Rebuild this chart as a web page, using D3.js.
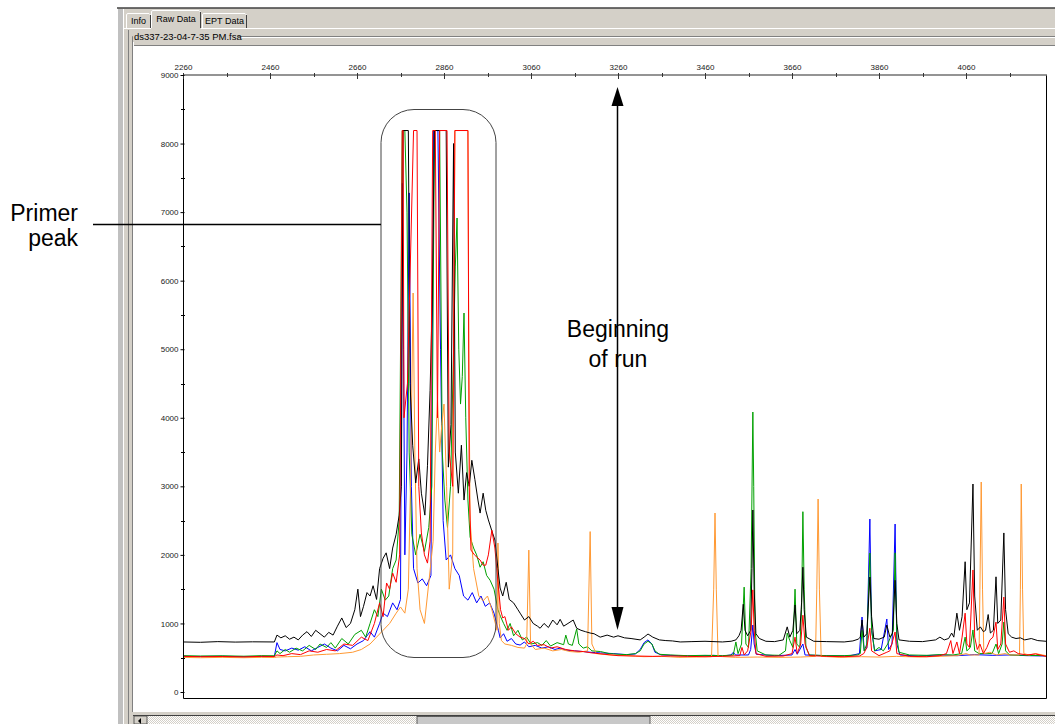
<!DOCTYPE html>
<html>
<head>
<meta charset="utf-8">
<script src="https://cdn.jsdelivr.net/npm/d3@7"></script>
<style>
  body { margin: 0; background: #fff; }
  svg { display: block; font-family: "Liberation Sans", Arial, sans-serif; }
</style>
</head>
<body>
<svg id="chart" width="1055" height="724"></svg>
<script>
// scan number vs raw fluorescence
const xTicks = [2260, 2460, 2660, 2860, 3060, 3260, 3460, 3660, 3860, 4060];
const yTicks = [0, 1000, 2000, 3000, 4000, 5000, 6000, 7000, 8000, 9000];
const tabs = ["Info", "Raw Data", "EPT Data"];
const fileName = "ds337-23-04-7-35 PM.fsa";

const blackTrace = [[2260,730],[2300,725],[2340,735],[2380,728],[2420,732],[2470,730],[2476,830],[2485,790],[2495,820],[2505,770],[2515,800],[2525,760],[2535,830],[2545,880],[2555,810],[2565,900],[2575,850],[2585,800],[2595,870],[2605,830],[2615,960],[2625,1080],[2635,940],[2645,1000],[2655,1200],[2662,1500],[2668,1100],[2675,1250],[2683,1450],[2690,1400],[2697,1550],[2705,1350],[2712,1800],[2720,1950],[2727,2030],[2735,1800],[2742,2100],[2750,2300],[2757,2580],[2762,3000],[2766,8190],[2778,8190],[2782,4500],[2788,3600],[2795,3050],[2802,3400],[2808,2900],[2816,2580],[2822,3300],[2828,4400],[2833,5720],[2838,8190],[2865,8190],[2870,3280],[2876,3900],[2882,8000],[2886,3500],[2893,2900],[2900,3600],[2906,2800],[2912,3200],[2918,3000],[2924,3380],[2931,3100],[2938,2800],[2943,2610],[2950,2900],[2956,2650],[2962,2510],[2970,2350],[2977,2217],[2984,1800],[2989,1517],[2995,1400],[3003,1600],[3010,1350],[3020,1300],[3030,1200],[3035,1150],[3045,1050],[3055,1100],[3065,1000],[3075,960],[3081,930],[3090,1000],[3100,940],[3110,1050],[3120,980],[3127,1060],[3135,960],[3145,1000],[3157,1050],[3165,930],[3175,900],[3185,880],[3196,860],[3205,850],[3219,800],[3235,830],[3250,800],[3260,820],[3275,790],[3290,780],[3311,760],[3320,800],[3329,846],[3340,800],[3355,760],[3370,750],[3385,745],[3403,730],[3430,735],[3460,740],[3500,730],[3520,740],[3531,760],[3538,820],[3543,900],[3548,1280],[3552,900],[3558,820],[3565,900],[3568,1800],[3570,2655],[3573,1500],[3577,850],[3585,780],[3600,740],[3620,735],[3640,760],[3649,950],[3655,800],[3662,900],[3667,1270],[3671,850],[3678,900],[3682,1300],[3685,1820],[3688,1200],[3693,800],[3710,740],[3740,735],[3780,730],[3800,745],[3812,770],[3817,800],[3821,1050],[3825,800],[3832,850],[3839,1677],[3843,1100],[3848,780],[3860,770],[3872,800],[3878,977],[3885,800],[3891,850],[3897,1630],[3901,1000],[3906,760],[3930,740],[3960,735],[3990,760],[4000,800],[4010,760],[4020,780],[4027,860],[4032,800],[4039,1150],[4045,900],[4051,1100],[4058,1900],[4062,1200],[4068,1300],[4076,3034],[4080,1400],[4086,900],[4093,950],[4100,880],[4105,900],[4111,1130],[4116,860],[4123,900],[4129,1680],[4133,1000],[4140,1050],[4147,2320],[4151,1200],[4157,850],[4165,800],[4175,780],[4185,790],[4195,760],[4210,780],[4225,750],[4244,740]];

const greenTrace = [[2260,530],[2300,525],[2350,528],[2400,522],[2440,530],[2470,528],[2476,600],[2483,560],[2495,620],[2505,580],[2520,640],[2535,600],[2550,680],[2565,620],[2575,700],[2590,650],[2600,720],[2610,640],[2625,780],[2640,700],[2655,840],[2670,900],[2680,800],[2690,1000],[2700,1200],[2708,1100],[2716,1500],[2725,1340],[2733,1400],[2742,1800],[2750,1925],[2757,2510],[2764,8190],[2770,8190],[2775,7000],[2780,3500],[2786,2300],[2795,2000],[2805,2300],[2815,2050],[2825,2400],[2832,3000],[2838,8190],[2850,8190],[2856,3500],[2862,2800],[2868,2400],[2875,3000],[2882,5000],[2886,6200],[2890,6914],[2894,5000],[2898,4200],[2902,4600],[2906,5528],[2910,4000],[2915,2800],[2920,2260],[2928,2100],[2935,2000],[2943,1820],[2950,1900],[2958,1700],[2966,1630],[2975,1500],[2984,1200],[2990,1100],[2997,1000],[3005,900],[3012,1000],[3020,820],[3030,900],[3040,760],[3050,800],[3060,700],[3075,720],[3085,680],[3095,750],[3105,670],[3120,720],[3135,690],[3140,830],[3146,700],[3155,680],[3165,920],[3170,700],[3180,640],[3190,660],[3200,600],[3220,590],[3240,560],[3260,550],[3280,545],[3300,560],[3311,600],[3320,700],[3329,740],[3338,700],[3345,600],[3355,550],[3380,540],[3420,530],[3460,535],[3500,530],[3525,540],[3531,730],[3536,560],[3544,700],[3550,1530],[3554,700],[3560,650],[3566,1800],[3570,4084],[3572,3000],[3575,900],[3580,600],[3600,540],[3630,535],[3645,600],[3649,860],[3655,750],[3662,650],[3667,1500],[3671,700],[3678,650],[3682,1200],[3685,2630],[3688,1500],[3692,650],[3700,540],[3740,530],[3780,530],[3810,540],[3817,560],[3821,900],[3826,600],[3832,700],[3839,2027],[3843,900],[3850,600],[3860,650],[3870,600],[3880,700],[3893,900],[3897,2030],[3901,800],[3906,580],[3930,540],[3970,535],[4000,545],[4030,540],[4050,560],[4058,800],[4062,600],[4070,650],[4076,905],[4080,600],[4090,560],[4120,560],[4129,700],[4135,560],[4143,700],[4147,1020],[4151,600],[4160,540],[4190,535],[4244,530]];

const redTrace = [[2260,520],[2300,515],[2350,518],[2400,512],[2440,520],[2470,518],[2476,540],[2490,530],[2510,560],[2530,545],[2550,600],[2570,580],[2590,620],[2610,600],[2630,700],[2650,680],[2670,800],[2685,750],[2700,1000],[2712,1300],[2720,1100],[2728,1590],[2735,1500],[2742,1735],[2750,1600],[2758,2000],[2764,8190],[2766,8190],[2768,4000],[2776,4500],[2790,8190],[2798,8190],[2802,3000],[2808,2320],[2815,2000],[2822,1880],[2828,2200],[2834,8190],[2840,8190],[2845,4000],[2850,8190],[2867,8190],[2872,3500],[2880,3000],[2885,8190],[2915,8190],[2918,3000],[2922,2070],[2930,2000],[2943,1925],[2950,1850],[2956,1850],[2962,2000],[2970,2360],[2977,2100],[2984,1600],[2990,1200],[2995,1080],[3000,1100],[3008,900],[3015,950],[3025,850],[3035,800],[3045,780],[3055,700],[3065,740],[3075,680],[3090,690],[3105,640],[3120,660],[3140,620],[3160,600],[3180,590],[3200,570],[3230,550],[3260,530],[3300,525],[3340,520],[3380,525],[3420,520],[3460,515],[3500,520],[3540,530],[3545,650],[3550,540],[3558,600],[3566,900],[3570,1490],[3573,900],[3577,560],[3600,520],[3640,525],[3660,560],[3667,800],[3672,560],[3680,700],[3685,1120],[3690,700],[3700,530],[3740,520],[3780,515],[3815,525],[3825,560],[3832,650],[3839,930],[3843,600],[3860,530],[3878,580],[3885,600],[3897,875],[3901,560],[3930,520],[3970,515],[4000,530],[4015,560],[4025,750],[4030,560],[4039,730],[4045,560],[4051,800],[4058,1150],[4062,700],[4068,650],[4076,1780],[4080,800],[4086,620],[4092,700],[4100,560],[4108,650],[4115,760],[4122,800],[4129,1020],[4133,620],[4140,700],[4147,1385],[4151,700],[4160,580],[4170,600],[4180,560],[4200,540],[4220,555],[4244,520]];

const blueTrace = [[2260,520],[2300,518],[2350,522],[2400,515],[2440,520],[2470,520],[2476,720],[2483,620],[2495,600],[2510,640],[2525,610],[2540,660],[2555,600],[2570,650],[2585,700],[2600,640],[2615,600],[2630,680],[2645,630],[2660,700],[2675,750],[2690,880],[2700,800],[2712,1000],[2720,1150],[2730,1100],[2742,1300],[2752,1200],[2760,1350],[2764,7420],[2767,5000],[2770,2000],[2775,3500],[2780,7280],[2785,3000],[2790,1800],[2800,1590],[2810,1650],[2820,1550],[2830,1700],[2836,8190],[2846,8190],[2852,5000],[2858,2500],[2865,1925],[2875,2000],[2885,1800],[2895,1700],[2905,1400],[2915,1340],[2925,1450],[2935,1300],[2945,1400],[2955,1250],[2965,1300],[2975,1150],[2985,900],[2989,790],[2997,850],[3005,740],[3015,780],[3025,700],[3035,685],[3045,730],[3055,660],[3070,680],[3085,640],[3100,660],[3115,620],[3127,640],[3140,610],[3160,600],[3180,590],[3196,580],[3220,570],[3250,560],[3280,545],[3300,555],[3311,620],[3320,720],[3329,760],[3338,700],[3345,580],[3360,540],[3400,530],[3440,525],[3480,535],[3500,525],[3520,540],[3525,580],[3530,540],[3560,540],[3565,620],[3570,977],[3573,700],[3578,550],[3620,530],[3660,540],[3667,620],[3672,550],[3685,700],[3690,540],[3740,530],[3790,525],[3815,560],[3821,1094],[3826,600],[3832,640],[3839,2523],[3843,900],[3850,600],[3865,620],[3878,1065],[3882,620],[3890,700],[3897,2450],[3901,700],[3908,540],[3950,525],[4000,540],[4040,530],[4080,545],[4120,535],[4160,540],[4200,530],[4244,525]];

const orangeTrace = [[2260,505],[2300,500],[2350,505],[2400,500],[2440,505],[2470,503],[2476,510],[2500,515],[2530,520],[2560,540],[2590,550],[2620,560],[2650,580],[2670,620],[2690,700],[2705,800],[2720,900],[2735,1000],[2750,1150],[2760,1240],[2770,1150],[2778,1500],[2783,3000],[2789,5820],[2793,3500],[2798,1800],[2805,1200],[2815,1000],[2825,1590],[2835,2200],[2840,3500],[2845,4260],[2850,3500],[2855,3900],[2860,4200],[2866,3000],[2872,1500],[2880,2000],[2885,8190],[2915,8190],[2917,5000],[2920,2500],[2928,1800],[2940,1400],[2950,1330],[2960,1400],[2970,1200],[2978,1000],[2982,900],[2984,2173],[2987,1000],[2992,750],[3000,700],[3015,680],[3030,650],[3045,640],[3050,700],[3055,2070],[3059,700],[3070,620],[3090,640],[3110,600],[3130,620],[3150,590],[3170,580],[3190,600],[3196,2340],[3200,700],[3210,560],[3240,540],[3280,530],[3320,515],[3360,520],[3400,505],[3440,510],[3475,515],[3480,1500],[3483,2611],[3486,1500],[3490,520],[3530,505],[3580,510],[3630,505],[3680,510],[3714,520],[3717,1500],[3720,2815],[3723,1500],[3727,520],[3770,505],[3820,515],[3860,510],[3900,520],[3950,510],[4000,520],[4040,530],[4060,560],[4070,540],[4090,540],[4092,1500],[4095,3063],[4098,1500],[4101,560],[4115,580],[4130,540],[4150,560],[4160,540],[4183,540],[4185,1500],[4187,3034],[4190,1500],[4193,560],[4205,540],[4220,560],[4244,530]];

const traces = [
  {name: "blue", color: "#0000ff", data: blueTrace},
  {name: "green", color: "#00a000", data: greenTrace},
  {name: "orange", color: "#ff9933", data: orangeTrace},
  {name: "black", color: "#000000", data: blackTrace},
  {name: "red", color: "#ff0000", data: redTrace}
];

const svg = d3.select("#chart");
const grey = "#d4d0c8";

// ---- window chrome (tabs, group box, scrollbar) ----
svg.append("rect").attr("x", 118).attr("y", 8).attr("width", 937).attr("height", 716).attr("fill", grey);
svg.append("line").attr("x1", 117).attr("x2", 1055).attr("y1", 8).attr("y2", 8).attr("stroke", "#404040").attr("stroke-width", 1.5);
svg.append("rect").attr("x", 118).attr("y", 9).attr("width", 5).attr("height", 715).attr("fill", "#c0c0c0");
svg.append("line").attr("x1", 123.5).attr("x2", 123.5).attr("y1", 9).attr("y2", 724).attr("stroke", "#fff");
svg.append("line").attr("x1", 128.5).attr("x2", 128.5).attr("y1", 30).attr("y2", 724).attr("stroke", "#808080");

var tabX = [126, 151, 202], tabW = [25, 50, 45];
tabs.forEach(function(t, i) {
  var sel = i === 1;
  var ty = sel ? 10 : 13;
  svg.append("path")
    .attr("d", `M${tabX[i]+0.5},28 V${ty+2} Q${tabX[i]+0.5},${ty+0.5} ${tabX[i]+2},${ty+0.5} H${tabX[i]+tabW[i]-2} L${tabX[i]+tabW[i]-0.5},${ty+2} V28`)
    .attr("fill", grey).attr("stroke", "#fff");
  svg.append("line").attr("x1", tabX[i]+tabW[i]-0.5).attr("x2", tabX[i]+tabW[i]-0.5)
    .attr("y1", ty+2).attr("y2", 28).attr("stroke", "#404040");
  svg.append("text").attr("x", tabX[i] + tabW[i]/2).attr("y", sel ? 22 : 24)
    .attr("text-anchor", "middle").attr("font-size", 9).attr("fill", "#000").text(t);
});
svg.append("line").attr("x1", 124).attr("x2", 151).attr("y1", 28.5).attr("y2", 28.5).attr("stroke", "#fff");
svg.append("line").attr("x1", 201).attr("x2", 1055).attr("y1", 28.5).attr("y2", 28.5).attr("stroke", "#fff");

// group box
svg.append("path").attr("d", "M132.5,712 V36.5 H1055").attr("fill", "none").attr("stroke", "#808080");
svg.append("path").attr("d", "M133.5,712 V37.5 H1055").attr("fill", "none").attr("stroke", "#fff");
svg.append("rect").attr("x", 133).attr("y", 31).attr("width", 104).attr("height", 11).attr("fill", grey);
svg.append("text").attr("x", 134).attr("y", 40).attr("font-size", 9.5).attr("fill", "#000").text(fileName);

// white plot panel
svg.append("rect").attr("x", 134).attr("y", 46).attr("width", 921).attr("height", 666).attr("fill", "#fff");
svg.append("line").attr("x1", 134).attr("x2", 1055).attr("y1", 45.5).attr("y2", 45.5).attr("stroke", "#808080");

// scrollbar
var defs = svg.append("defs");
var pat = defs.append("pattern").attr("id", "hatch").attr("width", 2).attr("height", 2).attr("patternUnits", "userSpaceOnUse");
pat.append("rect").attr("width", 2).attr("height", 2).attr("fill", "#fff");
pat.append("rect").attr("width", 1).attr("height", 1).attr("fill", grey);
pat.append("rect").attr("x", 1).attr("y", 1).attr("width", 1).attr("height", 1).attr("fill", grey);
svg.append("rect").attr("x", 134).attr("y", 716).attr("width", 921).attr("height", 8).attr("fill", "url(#hatch)");
svg.append("line").attr("x1", 133).attr("x2", 1055).attr("y1", 715.5).attr("y2", 715.5).attr("stroke", "#404040");
svg.append("rect").attr("x", 134).attr("y", 716).attr("width", 13).attr("height", 8).attr("fill", grey).attr("stroke", "#404040").attr("stroke-width", 0.8);
svg.append("path").attr("d", "M138,721 L141,718 L141,724 Z").attr("fill", "#000");
svg.append("rect").attr("x", 417).attr("y", 716.5).attr("width", 233).attr("height", 8).attr("fill", "#c8c8c8").attr("stroke", "#404040").attr("stroke-width", 0.8);

// ---- plot ----
const plotL = 183, plotR = 1046, plotT = 75, plotB = 692, frameB = 698;
const x = d3.scaleLinear().domain([2260, 2260 + (plotR - plotL) * 200 / 87]).range([plotL, plotR]);
const y = d3.scaleLinear().domain([0, 9000]).range([plotB, plotT]);

defs.append("clipPath").attr("id", "plotClip")
  .append("rect").attr("x", plotL).attr("y", plotT - 2).attr("width", plotR - plotL).attr("height", frameB - plotT + 2);

const line = d3.line().x(d => x(d[0])).y(d => y(d[1]));
const traceG = svg.append("g").attr("clip-path", "url(#plotClip)");
traceG.selectAll("path.trace")
  .data(traces).enter()
  .append("path")
    .attr("class", "trace")
    .attr("d", d => line(d.data))
    .attr("fill", "none")
    .attr("stroke", d => d.color)
    .attr("stroke-width", 1)
    .attr("stroke-linejoin", "miter");

// frame
svg.append("path").attr("d", `M${plotL+0.5},${plotT} V${frameB+0.5} H${plotR+0.5} V${plotT}`)
  .attr("fill", "none").attr("stroke", "#000").attr("stroke-width", 1);

// top axis (scan numbers)
const xAxis = d3.axisTop(x).tickValues(xTicks).tickSize(0).tickPadding(5).tickFormat(d3.format("d"));
const gx = svg.append("g").attr("transform", `translate(0,${plotT})`).call(xAxis);
gx.select(".domain").remove();
gx.selectAll("text").attr("font-size", 8).attr("fill", "#222").attr("font-family", "Liberation Sans, Arial, sans-serif");
svg.append("line").attr("x1", plotL).attr("x2", plotR + 1).attr("y1", plotT).attr("y2", plotT).attr("stroke", "#707070").attr("stroke-width", 1.6);
const xMinor = d3.range(2360, x.domain()[1], 200);
svg.append("g").selectAll("line").data(xMinor).enter().append("line")
  .attr("x1", d => Math.round(x(d)) + 0.5).attr("x2", d => Math.round(x(d)) + 0.5)
  .attr("y1", plotT - 2).attr("y2", plotT + 2).attr("stroke", "#333");
svg.append("g").selectAll("line").data(xTicks).enter().append("line")
  .attr("x1", d => Math.round(x(d)) + 0.5).attr("x2", d => Math.round(x(d)) + 0.5)
  .attr("y1", plotT - 2).attr("y2", plotT + 4).attr("stroke", "#333");

// left axis (intensity)
const yAxis = d3.axisLeft(y).tickValues(yTicks).tickSize(3).tickPadding(2).tickFormat(d3.format("d"));
const gy = svg.append("g").attr("transform", `translate(${plotL + 0.5},0)`).call(yAxis);
gy.select(".domain").remove();
gy.selectAll(".tick line").attr("stroke", "#000").attr("x2", -3).attr("x1", 1);
gy.selectAll("text").attr("font-size", 8).attr("fill", "#222").attr("font-family", "Liberation Sans, Arial, sans-serif");
svg.append("g").selectAll("line").data(d3.range(500, 9000, 1000)).enter().append("line")
  .attr("x1", plotL - 2).attr("x2", plotL + 2)
  .attr("y1", d => Math.round(y(d)) + 0.5).attr("y2", d => Math.round(y(d)) + 0.5).attr("stroke", "#000");

// ---- annotations ----
svg.append("rect").attr("x", 381).attr("y", 109.5).attr("width", 115).attr("height", 548)
  .attr("rx", 33).attr("ry", 33).attr("fill", "none").attr("stroke", "#444").attr("stroke-width", 1);
svg.append("line").attr("x1", 93).attr("x2", 381).attr("y1", 224.5).attr("y2", 224.5).attr("stroke", "#000").attr("stroke-width", 1.3);

const anno = svg.append("g").attr("font-family", "Liberation Sans, Arial, Helvetica, sans-serif").attr("font-size", 23).attr("fill", "#000");
anno.append("text").attr("x", 78).attr("y", 221).attr("text-anchor", "end").text("Primer");
anno.append("text").attr("x", 78).attr("y", 246).attr("text-anchor", "end").text("peak");
anno.append("text").attr("x", 618).attr("y", 337).attr("text-anchor", "middle").text("Beginning");
anno.append("text").attr("x", 618).attr("y", 367).attr("text-anchor", "middle").text("of run");

// double arrow
svg.append("line").attr("x1", 617.5).attr("x2", 617.5).attr("y1", 104).attr("y2", 610).attr("stroke", "#000").attr("stroke-width", 1.5);
svg.append("path").attr("d", "M617.5,87 L611.5,106 L623.5,106 Z").attr("fill", "#000");
svg.append("path").attr("d", "M617.5,630 L611.5,607 L623.5,607 Z").attr("fill", "#000");
</script>
</body>
</html>
